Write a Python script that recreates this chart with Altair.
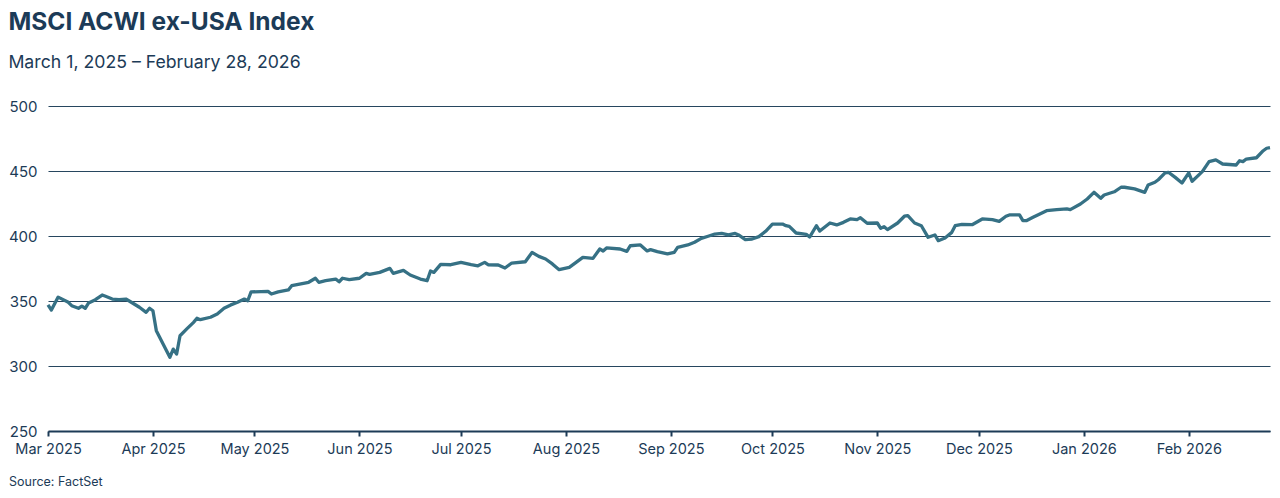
import altair as alt
import pandas as pd

dates = [
    "2025-03-01", "2025-03-02", "2025-03-04", "2025-03-07", "2025-03-08", "2025-03-10",
    "2025-03-11", "2025-03-12", "2025-03-13", "2025-03-15", "2025-03-17", "2025-03-18",
    "2025-03-20", "2025-03-22", "2025-03-24", "2025-03-25", "2025-03-28", "2025-03-30",
    "2025-03-31", "2025-04-01", "2025-04-02", "2025-04-04", "2025-04-06", "2025-04-07",
    "2025-04-08", "2025-04-09", "2025-04-11", "2025-04-13", "2025-04-14", "2025-04-15",
    "2025-04-18", "2025-04-20", "2025-04-22", "2025-04-24", "2025-04-26", "2025-04-28",
    "2025-04-29", "2025-04-30", "2025-05-05", "2025-05-06", "2025-05-08", "2025-05-11",
    "2025-05-12", "2025-05-17", "2025-05-19", "2025-05-20", "2025-05-22", "2025-05-25",
    "2025-05-26", "2025-05-27", "2025-05-29", "2025-06-01", "2025-06-03", "2025-06-04",
    "2025-06-07", "2025-06-10", "2025-06-11", "2025-06-14", "2025-06-16", "2025-06-19",
    "2025-06-21", "2025-06-22", "2025-06-23", "2025-06-25", "2025-06-28", "2025-07-01",
    "2025-07-04", "2025-07-06", "2025-07-08", "2025-07-09", "2025-07-12", "2025-07-14",
    "2025-07-16", "2025-07-20", "2025-07-22", "2025-07-24", "2025-07-26", "2025-07-28",
    "2025-07-30", "2025-08-02", "2025-08-04", "2025-08-06", "2025-08-09", "2025-08-11",
    "2025-08-12", "2025-08-13", "2025-08-17", "2025-08-19", "2025-08-20", "2025-08-23",
    "2025-08-25", "2025-08-26", "2025-08-28", "2025-08-31", "2025-09-02", "2025-09-03",
    "2025-09-06", "2025-09-08", "2025-09-10", "2025-09-12", "2025-09-14", "2025-09-16",
    "2025-09-18", "2025-09-20", "2025-09-21", "2025-09-23", "2025-09-25", "2025-09-27",
    "2025-09-29", "2025-10-01", "2025-10-04", "2025-10-05", "2025-10-06", "2025-10-08",
    "2025-10-11", "2025-10-12", "2025-10-14", "2025-10-15", "2025-10-18", "2025-10-20",
    "2025-10-22", "2025-10-24", "2025-10-26", "2025-10-27", "2025-10-29", "2025-11-01",
    "2025-11-02", "2025-11-03", "2025-11-04", "2025-11-07", "2025-11-09", "2025-11-10",
    "2025-11-12", "2025-11-14", "2025-11-16", "2025-11-18", "2025-11-19", "2025-11-21",
    "2025-11-23", "2025-11-24", "2025-11-26", "2025-11-29", "2025-12-02", "2025-12-05",
    "2025-12-07", "2025-12-09", "2025-12-10", "2025-12-13", "2025-12-14", "2025-12-15",
    "2025-12-17", "2025-12-19", "2025-12-21", "2025-12-24", "2025-12-27", "2025-12-28",
    "2025-12-31", "2026-01-02", "2026-01-04", "2026-01-06", "2026-01-07", "2026-01-10",
    "2026-01-12", "2026-01-13", "2026-01-16", "2026-01-19", "2026-01-20", "2026-01-22",
    "2026-01-23", "2026-01-25", "2026-01-26", "2026-01-28", "2026-01-30", "2026-02-01",
    "2026-02-02", "2026-02-05", "2026-02-07", "2026-02-09", "2026-02-11", "2026-02-15",
    "2026-02-16", "2026-02-17", "2026-02-18", "2026-02-21", "2026-02-23", "2026-02-24",
    "2026-02-25",
]

index_values = [
    347.0, 343.0, 353.0, 349.0, 346.4, 344.4,
    346.0, 344.4, 348.5, 351.0, 354.6, 353.6,
    351.5, 351.0, 351.5, 350.0, 345.2, 341.3,
    344.4, 342.5, 327.2, 316.9, 306.7, 313.0,
    309.2, 323.3, 328.5, 333.6, 336.7, 335.6,
    337.5, 340.0, 344.4, 347.0, 349.0, 351.5,
    350.2, 357.0, 357.4, 355.4, 357.0, 358.5,
    361.8, 364.4, 367.5, 364.4, 365.6, 366.9,
    364.8, 367.5, 366.4, 367.5, 371.3, 370.5,
    372.0, 375.1, 371.3, 373.6, 370.0, 366.9,
    365.6, 373.1, 372.0, 378.2, 377.9, 379.7,
    377.9, 377.1, 379.7, 377.9, 377.7, 375.4,
    379.2, 380.2, 387.4, 384.3, 382.3, 378.5,
    374.1, 375.9, 379.7, 383.6, 382.8, 390.0,
    388.5, 390.8, 390.0, 388.2, 392.5, 393.1,
    388.5, 389.5, 388.0, 386.2, 387.4, 391.3,
    393.1, 395.2, 398.2, 399.8, 401.5, 402.0,
    400.8, 402.0, 400.8, 397.2, 397.7, 399.5,
    403.6, 409.2, 409.2, 407.9, 407.4, 402.3,
    401.3, 399.2, 407.9, 403.8, 410.0, 408.5,
    410.5, 413.1, 412.6, 414.1, 409.8, 410.0,
    405.9, 407.2, 404.9, 410.0, 415.2, 415.7,
    410.0, 407.9, 399.0, 400.8, 396.4, 398.5,
    402.8, 407.9, 409.0, 408.7, 413.1, 412.6,
    411.3, 415.2, 416.2, 416.2, 411.8, 411.8,
    414.4, 416.9, 419.5, 420.3, 420.8, 420.3,
    424.6, 428.5, 433.6, 429.0, 431.5, 434.0,
    437.5, 437.5, 436.2, 433.6, 439.2, 441.3,
    443.3, 448.5, 449.0, 445.1, 440.8, 448.5,
    442.1, 449.5, 457.2, 458.5, 455.4, 454.6,
    457.9, 457.2, 459.2, 460.2, 465.6, 467.5,
    468.0,
]

y_ticks = [250, 300, 350, 400, 450, 500]
tick_months = [(2025, m) for m in range(3, 13)] + [(2026, 1), (2026, 2)]
title_text = "MSCI ACWI ex-USA Index"
subtitle_text = "March 1, 2025 – February 28, 2026"
source_text = ["Source: FactSet"]

NAVY = "#1c3b57"
LINE = "#367185"
FONT = "Inter"

df = pd.DataFrame({"date": dates, "value": index_values})

x_enc = alt.X(
    "date:T",
    title=None,
    scale=alt.Scale(
        type="utc",
        domain=[
            alt.DateTime(year=2025, month=3, date=1, utc=True),
            alt.DateTime(year=2026, month=2, date=25, utc=True),
        ],
    ),
    axis=alt.Axis(
        values=[alt.DateTime(year=y, month=m, date=1, utc=True) for y, m in tick_months],
        format="%b %Y",
        grid=False,
        domainColor=NAVY,
        domainWidth=2,
        tickColor=NAVY,
        tickWidth=2,
        tickSize=5,
        labelFontSize=14.5,
        labelColor=NAVY,
        labelFont=FONT,
        labelPadding=6,
        labelOverlap=False,
        labelFlush=False,
    ),
)

y_enc = alt.Y(
    "value:Q",
    title=None,
    scale=alt.Scale(domain=[250, 500], nice=False),
    axis=alt.Axis(
        values=y_ticks,
        grid=True,
        gridColor="#27465f",
        gridWidth=1,
        domain=False,
        ticks=False,
        labelFontSize=15,
        labelColor=NAVY,
        labelFont=FONT,
        labelPadding=11,
    ),
)

line = alt.Chart(df).mark_line(
    color=LINE, strokeWidth=3.3, strokeJoin="round", strokeCap="butt"
).encode(x=x_enc, y=y_enc)

source = alt.Chart(pd.DataFrame({"t": source_text})).mark_text(
    align="left", baseline="middle", fontSize=12.5, font=FONT, color=NAVY
).encode(text="t:N", x=alt.value(-39), y=alt.value(376))

chart = (
    alt.layer(line, source)
    .properties(
        width=1222,
        height=325,
        padding={"top": 2, "left": 0, "right": 0, "bottom": 0},
        title=alt.TitleParams(
            text=title_text,
            subtitle=subtitle_text,
            anchor="start",
            frame="bounds",
            font=FONT,
            fontSize=24.5,
            fontWeight="bold",
            color=NAVY,
            subtitleFont=FONT,
            subtitleFontSize=17.7,
            subtitleColor=NAVY,
            subtitlePadding=18,
            offset=26.5,
        ),
    )
    .configure_view(strokeWidth=0)
)

chart.save("out.html", embed_options={"renderer": "svg", "actions": False})
